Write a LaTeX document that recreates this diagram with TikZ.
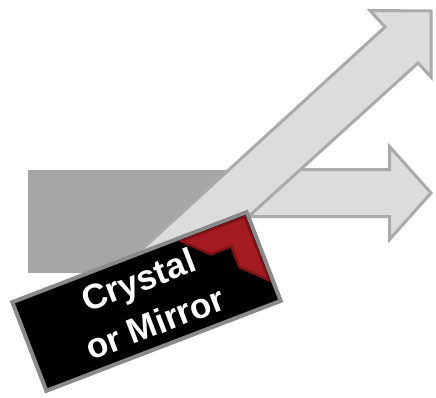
\documentclass[tikz,border=0pt]{standalone}
\usepackage{fontspec}
\setsansfont{Liberation Sans}
\usepackage{xcolor}
\usepackage{tikz}
\usetikzlibrary{positioning}

\definecolor{beamgray}{HTML}{A6A6A6}
\definecolor{arrowfill}{HTML}{DCDCDC}
\definecolor{arrowline}{HTML}{AAAAAA}
\definecolor{crystalline}{HTML}{8A8A8A}
\definecolor{cornerred}{HTML}{A31B21}
\definecolor{cornerdark}{HTML}{7A1216}

\begin{document}
\begin{tikzpicture}[
  x=1pt, y=-1pt,
  beam/.style={fill=beamgray, draw=none},
  outbeam/.style={fill=arrowfill, draw=arrowline, line width=3pt, line join=miter},
  crystal/.style={rectangle, fill=black, draw=crystalline, line width=4pt, minimum width=251pt, minimum height=95pt, text=white, align=center, font=\sffamily\bfseries\fontsize{35}{46}\selectfont},
  redcorner/.style={fill=cornerred, draw=cornerdark, line width=2.5pt, line join=miter}
]
\useasboundingbox (0,0) rectangle (436,397);
% incoming beam
\fill[beam] (28,170) rectangle (240,273);
% transmitted beam
\draw[outbeam] (240,169.5) -- (389.5,169.5) -- (389.5,146.5) -- (431,193)
  -- (389.5,239.5) -- (389.5,216.5) -- (240,216.5) -- cycle;
% reflected beam
\draw[outbeam] (120,269.4) -- (385,27) -- (370,10.5) -- (431,11)
  -- (431,77) -- (418,63) -- (152,304) -- cycle;
% crystal, tilted
\begin{scope}[shift={(146.5,301.5)}, rotate=21, y=1pt, transform shape]
  \node[crystal] (xtal) at (0,0) {Crystal\\or Mirror};
  \draw[redcorner] (122,44) -- (54,44) -- (77,21) -- (99,21) -- (99,-1) -- (122,-24) -- cycle;
\end{scope}
\end{tikzpicture}
\end{document}
